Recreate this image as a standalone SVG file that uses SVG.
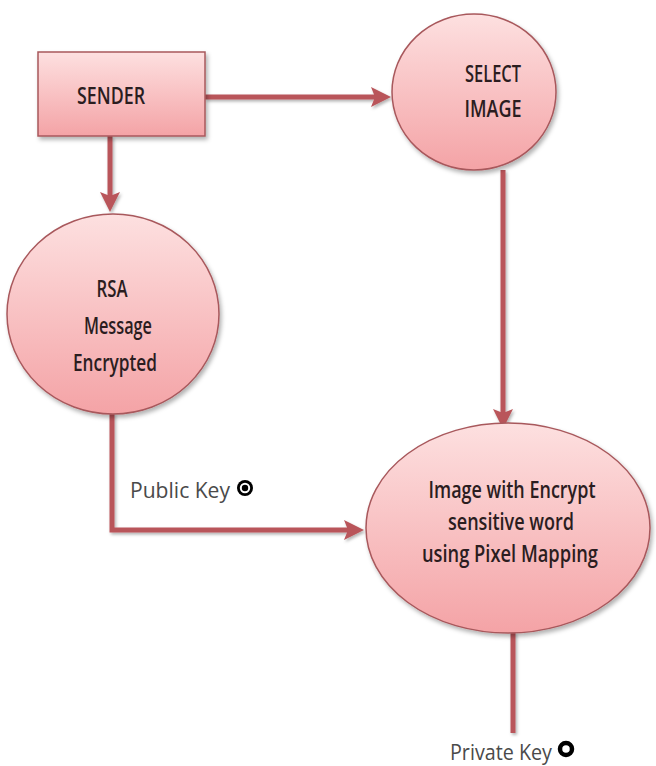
<svg xmlns="http://www.w3.org/2000/svg" width="656" height="766" viewBox="0 0 656 766">
<defs>
<linearGradient id="pink" x1="0" y1="0" x2="0" y2="1">
<stop offset="0" stop-color="#fde0e0"/>
<stop offset="1" stop-color="#f4a3a6"/>
</linearGradient>
<filter id="sh" x="-10%" y="-10%" width="130%" height="130%">
<feDropShadow dx="2" dy="3" stdDeviation="2" flood-color="#000" flood-opacity="0.3"/>
</filter>
<filter id="shl" filterUnits="userSpaceOnUse" x="0" y="0" width="656" height="766">
<feDropShadow dx="1.5" dy="2" stdDeviation="1.5" flood-color="#000" flood-opacity="0.3"/>
</filter>
<marker id="ah" markerWidth="4" markerHeight="4" refX="2.2" refY="2" orient="auto" markerUnits="strokeWidth">
<path d="M0,0 L4,2 L0,4 L0.8,2 Z" fill="#b9545a"/>
</marker>
<style>
.shape{fill:url(#pink);stroke:#a8585c;stroke-width:1.5;filter:url(#sh)}
.lbl{font-family:"Open Sans","Liberation Sans",sans-serif;font-weight:600;fill:#2b1d1f;text-anchor:middle}
.key{font-family:"Open Sans","Liberation Sans",sans-serif;fill:#4a4a4a;font-size:22px}
.conn{fill:none;stroke:#b9545a;stroke-width:5;filter:url(#shl)}
</style>
</defs>
<g id="connectors">
<path class="conn" d="M205,97 L382,97" marker-end="url(#ah)"/>
<path class="conn" d="M110,136 L110,203" marker-end="url(#ah)"/>
<path class="conn" d="M503,170 L503,420" marker-end="url(#ah)"/>
<path class="conn" d="M112,413 L112,530 L355,530" marker-end="url(#ah)"/>
<path class="conn" d="M513,632 L513,733"/>
</g>
<g id="sender">
<rect class="shape" x="38" y="52" width="167" height="84"/>
<text class="lbl" x="111" y="104" font-size="23" textLength="68" lengthAdjust="spacingAndGlyphs">SENDER</text>
</g>
<g id="select-image">
<ellipse class="shape" cx="474" cy="92" rx="82" ry="78"/>
<text class="lbl" x="493" y="82" font-size="23" textLength="56" lengthAdjust="spacingAndGlyphs">SELECT</text>
<text class="lbl" x="493" y="117" font-size="23" textLength="57" lengthAdjust="spacingAndGlyphs">IMAGE</text>
</g>
<g id="rsa">
<ellipse class="shape" cx="113" cy="314" rx="106" ry="100"/>
<text class="lbl" x="112" y="297" font-size="23" textLength="31" lengthAdjust="spacingAndGlyphs">RSA</text>
<text class="lbl" x="118" y="334" font-size="23" textLength="68" lengthAdjust="spacingAndGlyphs">Message</text>
<text class="lbl" x="115" y="371" font-size="23" textLength="84" lengthAdjust="spacingAndGlyphs">Encrypted</text>
</g>
<g id="image-encrypt">
<ellipse class="shape" cx="508" cy="528" rx="142" ry="105"/>
<text class="lbl" x="512" y="498" font-size="23" textLength="167" lengthAdjust="spacingAndGlyphs">Image with Encrypt</text>
<text class="lbl" x="511" y="530" font-size="23" textLength="126" lengthAdjust="spacingAndGlyphs">sensitive word</text>
<text class="lbl" x="510" y="562" font-size="23" textLength="176" lengthAdjust="spacingAndGlyphs">using Pixel Mapping</text>
</g>
<g id="public-key">
<text class="key" x="130" y="498" textLength="100" lengthAdjust="spacingAndGlyphs">Public Key</text>
<circle cx="245" cy="488" r="8" fill="#000"/>
<circle cx="245" cy="488" r="4.2" fill="none" stroke="#fff" stroke-width="2"/>
</g>
<g id="private-key">
<text class="key" x="450" y="760" textLength="102" lengthAdjust="spacingAndGlyphs">Private Key</text>
<circle cx="566" cy="749" r="6" fill="none" stroke="#000" stroke-width="4.5"/>
</g>
</svg>
